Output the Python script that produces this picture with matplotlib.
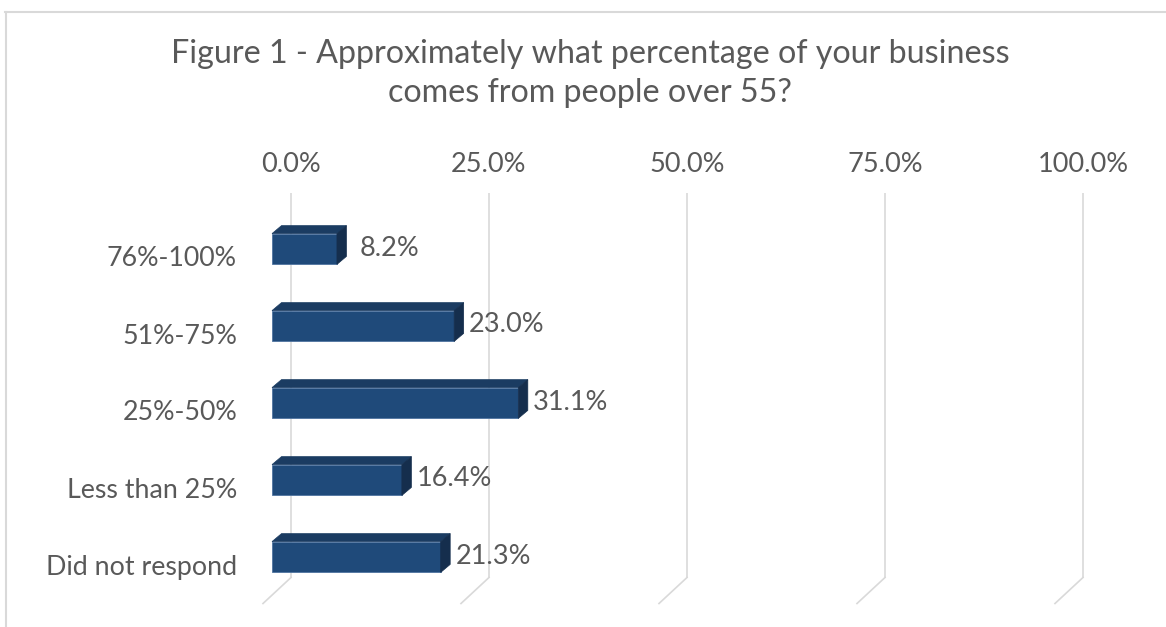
import matplotlib
matplotlib.use("Agg")
import matplotlib.pyplot as plt
from matplotlib.patches import Polygon
from matplotlib.lines import Line2D
from matplotlib.transforms import Affine2D, IdentityTransform

# ---- data -------------------------------------------------------------
categories = ["76%-100%", "51%-75%", "25%-50%", "Less than 25%", "Did not respond"]
shares = [8.2, 23.0, 31.1, 16.4, 21.3]
axis_ticks = [0, 25, 50, 75, 100]
tick_labels = ["0.0%", "25.0%", "50.0%", "75.0%", "100.0%"]
title = "Figure 1 - Approximately what percentage of your business\ncomes from people over 55?"

# ---- style ------------------------------------------------------------
FONT = "Lato"
TEXT = "#595959"
GRID = "#d9d9d9"
FRONT = "#1F4A7A"
TOP = "#1B3C62"
SIDE = "#152E4D"

W, H, DPI = 1166, 627, 100
fig = plt.figure(figsize=(W / DPI, H / DPI), dpi=DPI)
fig.patch.set_facecolor("white")

# the front plane of the bars, in pixels from the top-left corner
left_px, right_px = 272, 1064
top_px, bottom_px = 210.5, 595.5
ax = fig.add_axes([left_px / W, 1 - bottom_px / H,
                   (right_px - left_px) / W, (bottom_px - top_px) / H])
ax.set_xlim(0, 100)
ax.set_ylim(len(categories) - 0.5, -0.5)
ax.axis("off")

# depth offsets in display pixels (x to the right, y upwards)
BAR_DEPTH = (9.5, 8)
WALL = (19, 18)
FLOOR = (-9, -8)
BAR_H = 0.4


def shifted(dx, dy):
    return ax.transData + Affine2D().translate(dx, dy)


def disp(x, y, off=(0, 0)):
    px, py = ax.transData.transform((x, y))
    return (px + off[0], py + off[1])


ident = IdentityTransform()
y0, y1 = ax.get_ylim()

# back wall gridlines
ax.vlines(axis_ticks, y1, y0, colors=GRID, lw=1.2,
          transform=shifted(*WALL), clip_on=False, zorder=1)
# floor lines running towards the viewer
for v in axis_ticks:
    a = disp(v, y0, WALL)
    b = disp(v, y0, FLOOR)
    fig.add_artist(Line2D([a[0], b[0]], [a[1], b[1]], color=GRID, lw=1.2,
                          transform=ident, zorder=1))

# 3D bars: front face via barh, top and side faces as polygons
ypos = list(range(len(categories)))
ax.barh(ypos, shares, height=BAR_H, color=FRONT, edgecolor="#4F74A0",
        linewidth=0.6, zorder=3, clip_on=False)
for i, v in zip(ypos, shares):
    top_face = [disp(0, i - BAR_H / 2), disp(v, i - BAR_H / 2),
                disp(v, i - BAR_H / 2, BAR_DEPTH), disp(0, i - BAR_H / 2, BAR_DEPTH)]
    side_face = [disp(v, i - BAR_H / 2), disp(v, i + BAR_H / 2),
                 disp(v, i + BAR_H / 2, BAR_DEPTH), disp(v, i - BAR_H / 2, BAR_DEPTH)]
    fig.add_artist(Polygon(top_face, closed=True, facecolor=TOP, edgecolor=TOP,
                           lw=0.5, transform=ident, zorder=4))
    fig.add_artist(Polygon(side_face, closed=True, facecolor=SIDE, edgecolor=SIDE,
                           lw=0.5, transform=ident, zorder=4))
    ax.text(v, i, f"{v:.1f}%", ha="center", va="center", fontsize=19.5,
            family=FONT, color=TEXT, transform=shifted(BAR_DEPTH[0] + 43, 1),
            clip_on=False, zorder=5)

# category labels on the floor front edge
for i, lab in zip(ypos, categories):
    ax.text(0, i, lab, ha="right", va="center", fontsize=19.3, family=FONT,
            color=TEXT, transform=shifted(FLOOR[0] - 26, FLOOR[1] - 2),
            clip_on=False)

# value axis labels above the back wall
for v, lab in zip(axis_ticks, tick_labels):
    ax.text(v, y1, lab, ha="center", va="center", fontsize=19.5, family=FONT,
            color=TEXT, transform=shifted(WALL[0], WALL[1] + 28.5),
            clip_on=False)

fig.text(590 / W, 1 - 73.5 / H, title, ha="center", va="center",
         fontsize=23.2, family=FONT, color=TEXT, linespacing=1.38)

# chart frame
fig.add_artist(Line2D([5, W], [H - 12, H - 12], color=GRID, lw=1.5, transform=ident))
fig.add_artist(Line2D([6, 6], [0, H - 12], color=GRID, lw=1.5, transform=ident))

fig.savefig("out.png", dpi=DPI, facecolor="white")
